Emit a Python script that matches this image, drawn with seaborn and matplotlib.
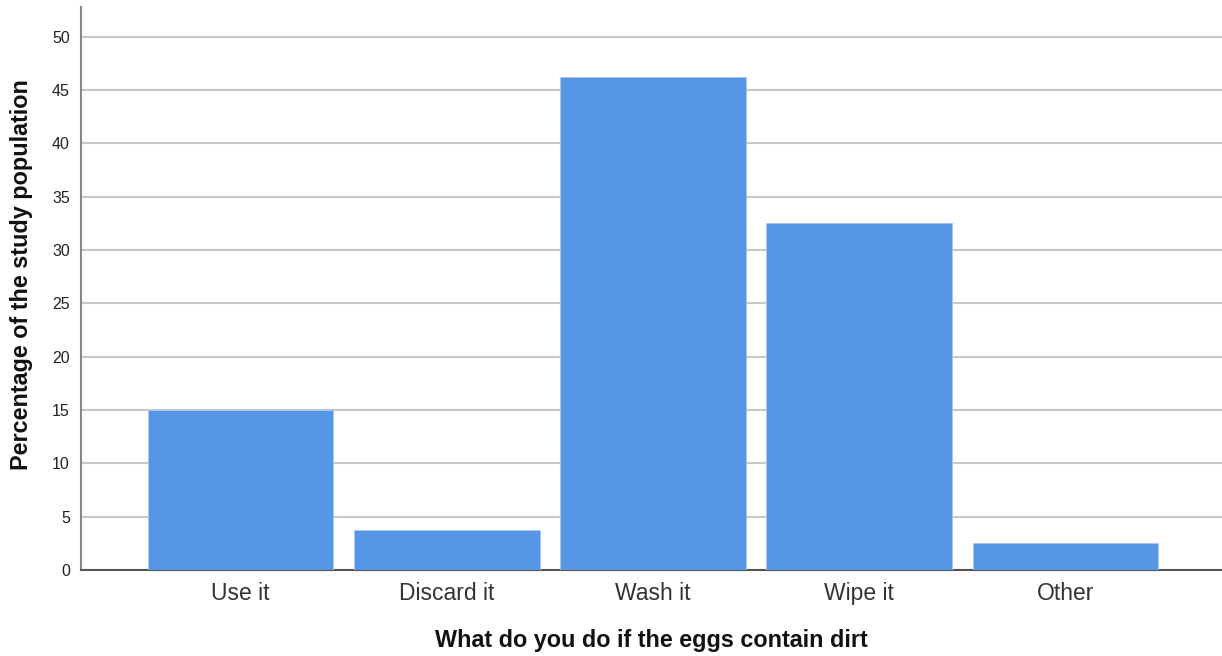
import pandas as pd
import matplotlib.pyplot as plt
import seaborn as sns

# values
categories = ['Use it', 'Discard it', 'Wash it', 'Wipe it', 'Other']
percentages = [15.0, 3.75, 46.25, 32.5, 2.5]
y_ticks = [0, 5, 10, 15, 20, 25, 30, 35, 40, 45, 50]

sns.set_style("white")
plt.rcParams['font.family'] = ['Liberation Sans', 'DejaVu Sans']

df = pd.DataFrame({'answer': categories, 'pct': percentages})

fig = plt.figure(figsize=(12.22, 6.56), dpi=100)
ax = fig.add_axes([0.0663, 0.1311, 0.9337, 0.8582])

sns.barplot(data=df, x='answer', y='pct', color='#5596E5', saturation=1,
            width=0.9, edgecolor='#A9C8F2', linewidth=0.6, ax=ax, zorder=3)

ax.set_xlim(-0.773, 4.759)
ax.set_ylim(0, 52.8)
ax.set_yticks(y_ticks)
ax.set_yticklabels([str(t) for t in y_ticks], fontsize=11.5, color='#222222')
ax.tick_params(axis='x', labelsize=16.5, labelcolor='#333333', length=0, pad=9)
ax.tick_params(axis='y', length=0, pad=8)

ax.yaxis.grid(True, color='#C8C8C8', linewidth=1.5, zorder=0)
ax.set_axisbelow(True)

for side in ['top', 'right']:
    ax.spines[side].set_visible(False)
ax.spines['left'].set_color('#888888')
ax.spines['left'].set_linewidth(1.5)
ax.spines['bottom'].set_color('#555555')
ax.spines['bottom'].set_linewidth(1.5)

ax.set_xlabel('What do you do if the eggs contain dirt', fontsize=16.8,
              fontweight='bold', color='#111111', labelpad=17)
ax.set_ylabel('Percentage of the study population', fontsize=16.8,
              fontweight='bold', color='#111111')
# label sits a little above the axis centre in the original
ax.yaxis.set_label_coords(-0.042, 0.525)

fig.savefig('out.png', dpi=100)
